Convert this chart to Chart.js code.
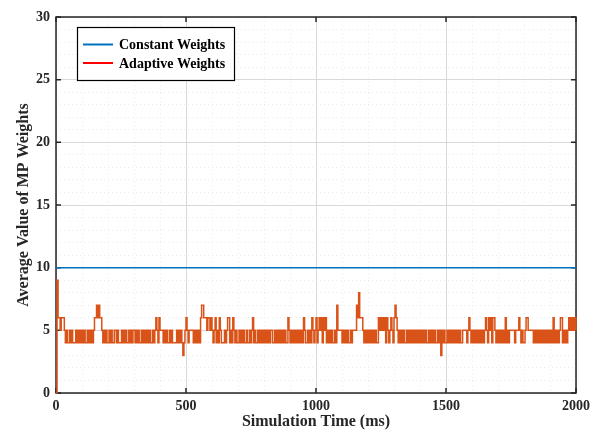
<!DOCTYPE html>
<html>
<head>
<meta charset="utf-8">
<script src="https://cdn.jsdelivr.net/npm/chart.js@4.4.0/dist/chart.umd.min.js"></script>
<style>
  html, body { margin: 0; padding: 0; background: #fff; }
  #wrap { width: 596px; height: 437px; }
</style>
</head>
<body>
<div id="wrap"><canvas id="chart" width="596" height="437"></canvas></div>
<script>
// Series names, as shown in the legend
const seriesNames = ['Constant Weights', 'Adaptive Weights'];

// Constant-weight run: flat over the whole simulation
const constantTimes = [0, 2000];
const constantWeights = [10, 10];

// Adaptive-weight run, one value every SAMPLE_MS milliseconds (t = 0 … 2000 ms)
const SAMPLE_MS = 4;
const adaptiveWeights = [
  0,9,6,6,5, 6,6,6,5,4, 5,4,4,5,4, 5,4,4,4,5, 4,5,4,5,4,   //    0 –   96
  5,4,5,4,4, 5,4,5,4,5, 4,5,6,6,7, 6,7,6,6,5, 4,5,4,5,4,   //  100 –  196
  4,5,4,5,4, 4,5,5,4,5, 4,4,4,5,4, 5,4,5,4,4, 5,4,5,4,5,   //  200 –  296
  5,4,5,4,5, 4,4,5,4,5, 4,5,4,5,4, 5,4,4,5,4, 5,6,5,4,6,   //  300 –  396
  5,5,5,4,5, 4,5,4,4,5, 4,5,4,4,4, 4,5,4,5,4, 5,4,3,4,5,   //  400 –  496
  6,5,4,5,5, 5,5,4,5,4, 5,4,5,4,6, 7,7,6,6,6, 5,6,6,5,6,   //  500 –  596
  5,4,5,6,4, 5,4,6,5,4, 4,4,5,4,5, 6,6,4,5,4, 6,5,4,5,4,   //  600 –  696
  4,5,4,5,4, 5,4,4,5,4, 4,5,4,5,6, 4,5,4,4,5, 4,5,4,5,4,   //  700 –  796
  5,4,5,4,5, 4,5,5,4,4, 5,4,5,4,5, 4,5,4,5,4, 5,4,4,6,5,   //  800 –  896
  4,5,4,5,4, 5,4,5,4,5, 4,5,4,6,5, 4,4,5,4,5, 4,6,5,4,5,   //  900 –  996
  6,4,5,6,5, 6,4,6,5,6, 4,5,4,5,4, 5,4,4,5,4, 7,5,5,5,5,   // 1000 – 1096
  4,5,4,5,4, 5,4,4,5,4, 5,5,5,5,7, 6,8,6,6,6, 5,4,5,4,5,   // 1100 – 1196
  4,5,4,5,4, 5,4,5,4,4, 6,5,6,5,6, 5,6,4,6,5, 4,5,6,5,4,   // 1200 – 1296
  6,7,6,5,4, 5,4,5,4,5, 4,4,5,4,5, 4,5,4,5,4, 5,4,5,4,5,   // 1300 – 1396
  4,5,4,5,4, 5,4,4,5,4, 5,4,5,4,5, 4,4,5,4,5, 3,5,4,5,4,   // 1400 – 1496
  4,5,4,5,4, 5,4,5,4,5, 4,5,4,5,4, 4,5,5,5,5, 4,5,6,5,4,   // 1500 – 1596
  5,4,5,4,5, 4,5,4,5,4, 5,4,5,6,5, 4,6,5,6,4, 6,6,5,4,5,   // 1600 – 1696
  4,5,4,5,4, 5,4,6,4,5, 4,5,5,5,5, 5,4,5,5,5, 6,5,4,5,4,   // 1700 – 1796
  4,5,6,6,5, 5,5,5,5,4, 5,4,5,4,5, 4,5,4,5,4, 5,4,5,4,5,   // 1800 – 1896
  4,5,4,6,4, 5,4,5,4,5, 6,6,4,5,4, 5,4,5,6,5, 6,5,6,5,6,   // 1900 – 1996
  5                                                        // 2000
];
const adaptiveTimes = adaptiveWeights.map((_, i) => i * SAMPLE_MS);

// Axis ranges and tick labels
const xRange = [0, 2000];
const yRange = [0, 30];
const xTickValues = [0, 500, 1000, 1500, 2000];
const yTickValues = [0, 5, 10, 15, 20, 25, 30];
const xMinorStep = 100;
const yMinorStep = 1;

const xAxisTitle = 'Simulation Time (ms)';
const yAxisTitle = 'Average Value of MP Weights';

// ---------------------------------------------------------------------------
const FONT = "'Liberation Serif', 'Times New Roman', serif";
const INK = '#262626';

const toPoints = (xs, ys) => xs.map((x, i) => ({ x, y: ys[i] }));

function minorTicks(range, step, majors) {
  const out = [];
  for (let v = range[0]; v <= range[1] + 1e-9; v += step) {
    if (!majors.includes(v)) out.push({ value: v });
  }
  return out;
}
const fixedTicks = list => scale => { scale.ticks = list.map(v => (typeof v === 'object' ? v : { value: v })); };
const plainLabel = v => String(v);

// Axes box with inward major ticks on all four sides
const axesFrame = {
  id: 'axesFrame',
  beforeDatasetsDraw(chart) {
    const { ctx, chartArea: a, scales: { x, y } } = chart;
    const T = 5;
    ctx.save();
    ctx.strokeStyle = INK;
    ctx.lineWidth = 1.5;
    ctx.beginPath();
    xTickValues.forEach(v => {
      const px = x.getPixelForValue(v);
      ctx.moveTo(px, a.bottom); ctx.lineTo(px, a.bottom - T);
      ctx.moveTo(px, a.top);    ctx.lineTo(px, a.top + T);
    });
    yTickValues.forEach(v => {
      const py = y.getPixelForValue(v);
      ctx.moveTo(a.left, py);  ctx.lineTo(a.left + T, py);
      ctx.moveTo(a.right, py); ctx.lineTo(a.right - T, py);
    });
    ctx.stroke();
    ctx.strokeRect(a.left, a.top, a.width, a.height);
    ctx.restore();
  }
};

// Boxed legend in the upper-left corner of the plot
const boxLegend = {
  id: 'boxLegend',
  afterDatasetsDraw(chart) {
    const { ctx, chartArea: a } = chart;
    const left = a.left + 21, top = a.top + 10, w = 157, h = 53;
    ctx.save();
    ctx.fillStyle = '#fff';
    ctx.fillRect(left, top, w, h);
    ctx.strokeStyle = '#000';
    ctx.lineWidth = 1.2;
    ctx.strokeRect(left + 0.5, top + 0.5, w, h);
    ctx.font = `bold 14px ${FONT}`;
    ctx.textBaseline = 'middle';
    ctx.fillStyle = '#000';
    chart.data.datasets.forEach((ds, i) => {
      const cy = top + 17.5 + i * 18.5;
      ctx.strokeStyle = ds.legendColor;
      ctx.lineWidth = 2;
      ctx.beginPath();
      ctx.moveTo(left + 6, cy);
      ctx.lineTo(left + 36, cy);
      ctx.stroke();
      ctx.fillText(ds.label, left + 42, cy + 1);
    });
    ctx.restore();
  }
};

new Chart(document.getElementById('chart'), {
  type: 'line',
  data: {
    datasets: [
      {
        label: seriesNames[0],
        data: toPoints(constantTimes, constantWeights),
        borderColor: '#0072BD',
        legendColor: '#0072BD',
        borderWidth: 1.5,
        pointRadius: 0,
        xAxisID: 'x', yAxisID: 'y'
      },
      {
        label: seriesNames[1],
        data: toPoints(adaptiveTimes, adaptiveWeights),
        borderColor: '#D95319',
        legendColor: '#FF0000',
        borderWidth: 1.5,
        pointRadius: 0,
        stepped: true,
        clip: 2,
        xAxisID: 'x', yAxisID: 'y'
      }
    ]
  },
  options: {
    responsive: false,
    animation: false,
    devicePixelRatio: 1,
    layout: { padding: { top: 17, right: 20, left: 0, bottom: 0 } },
    plugins: { legend: { display: false }, tooltip: { enabled: false } },
    scales: {
      xMinor: {
        type: 'linear', position: 'bottom', min: xRange[0], max: xRange[1],
        afterBuildTicks: fixedTicks(minorTicks(xRange, xMinorStep, xTickValues)),
        ticks: { display: false },
        grid: { color: '#ebebeb', lineWidth: 1, drawTicks: false },
        border: { display: false, dash: [1, 3] },
        afterFit: s => { s.height = 0; }
      },
      yMinor: {
        type: 'linear', position: 'left', min: yRange[0], max: yRange[1],
        afterBuildTicks: fixedTicks(minorTicks(yRange, yMinorStep, yTickValues)),
        ticks: { display: false },
        grid: { color: '#ebebeb', lineWidth: 1, drawTicks: false },
        border: { display: false, dash: [1, 3] },
        afterFit: s => { s.width = 0; }
      },
      x: {
        type: 'linear', position: 'bottom', min: xRange[0], max: xRange[1],
        afterBuildTicks: fixedTicks(xTickValues),
        ticks: { font: { family: FONT, size: 14, weight: 'bold' }, color: INK, padding: 5, maxRotation: 0, autoSkip: false, callback: plainLabel },
        grid: { color: '#d9d9d9', lineWidth: 1, drawTicks: false },
        border: { display: false },
        title: { display: true, text: xAxisTitle, color: INK, font: { family: FONT, size: 16, weight: 'bold' }, padding: { top: 0, bottom: 6 } },
        afterFit: s => { s.height = 44; }
      },
      y: {
        type: 'linear', position: 'left', min: yRange[0], max: yRange[1],
        afterBuildTicks: fixedTicks(yTickValues),
        ticks: { font: { family: FONT, size: 14, weight: 'bold' }, color: INK, padding: 6, autoSkip: false, callback: plainLabel },
        grid: { color: '#d9d9d9', lineWidth: 1, drawTicks: false },
        border: { display: false },
        title: { display: true, text: yAxisTitle, color: INK, font: { family: FONT, size: 16, weight: 'bold' }, padding: { top: 14, bottom: 0 } },
        afterFit: s => { s.width = 56; }
      }
    }
  },
  plugins: [axesFrame, boxLegend]
});
</script>
</body>
</html>
